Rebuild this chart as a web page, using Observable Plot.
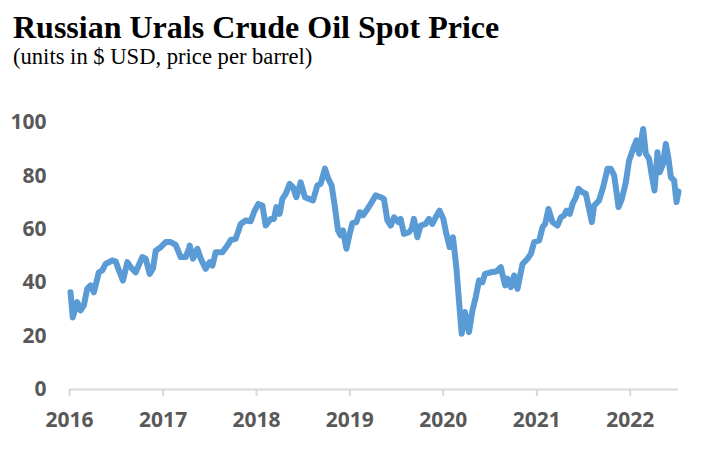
<!DOCTYPE html>
<html>
<head>
<meta charset="utf-8">
<script src="https://cdn.jsdelivr.net/npm/d3@7"></script>
<script src="https://cdn.jsdelivr.net/npm/@observablehq/plot@0.6"></script>
<style>
  html, body { margin: 0; padding: 0; background: #fff; }
  #wrap { position: relative; width: 701px; height: 458px; overflow: hidden; }
  #title { position: absolute; left: 13px; top: 10.7px; font-family: "Liberation Serif", serif; font-weight: bold; font-size: 32px; line-height: 32px; color: #000; white-space: nowrap; }
  #subtitle { position: absolute; left: 13px; top: 46.1px; font-family: "Liberation Serif", serif; font-size: 22.6px; line-height: 22.6px; color: #000; white-space: nowrap; }
  #chart { position: absolute; left: 0; top: 80px; }
</style>
</head>
<body>
<div id="wrap">
  <div id="title">Russian Urals Crude Oil Spot Price</div>
  <div id="subtitle">(units in $ USD, price per barrel)</div>
  <div id="chart"></div>
</div>
<script>
// Dates as decimal years, prices in USD per barrel
const dates = [
  2016.011, 2016.035, 2016.082, 2016.118, 2016.153, 2016.190, 2016.225, 2016.260, 2016.314, 2016.350,
  2016.385, 2016.457, 2016.493, 2016.528, 2016.571, 2016.618, 2016.653, 2016.707, 2016.778, 2016.814,
  2016.857, 2016.892, 2016.921, 2016.974, 2017.028, 2017.081, 2017.135, 2017.188, 2017.242, 2017.277,
  2017.285, 2017.320, 2017.367, 2017.403, 2017.456, 2017.499, 2017.528, 2017.563, 2017.635, 2017.688,
  2017.724, 2017.777, 2017.831, 2017.884, 2017.938, 2017.973, 2018.020, 2018.063, 2018.099, 2018.152,
  2018.187, 2018.213, 2018.248, 2018.277, 2018.313, 2018.355, 2018.391, 2018.427, 2018.473, 2018.519,
  2018.562, 2018.605, 2018.652, 2018.687, 2018.733, 2018.769, 2018.805, 2018.840, 2018.873, 2018.901,
  2018.926, 2018.963, 2018.998, 2019.027, 2019.070, 2019.105, 2019.140, 2019.177, 2019.223, 2019.276,
  2019.330, 2019.365, 2019.402, 2019.437, 2019.473, 2019.519, 2019.544, 2019.579, 2019.633, 2019.662,
  2019.686, 2019.723, 2019.758, 2019.812, 2019.847, 2019.883, 2019.919, 2019.961, 2020.001, 2020.033,
  2020.069, 2020.104, 2020.140, 2020.168, 2020.197, 2020.232, 2020.275, 2020.312, 2020.347, 2020.382,
  2020.419, 2020.446, 2020.507, 2020.569, 2020.615, 2020.661, 2020.687, 2020.722, 2020.757, 2020.793,
  2020.847, 2020.900, 2020.936, 2020.971, 2021.025, 2021.061, 2021.089, 2021.125, 2021.168, 2021.221,
  2021.257, 2021.292, 2021.318, 2021.353, 2021.382, 2021.418, 2021.446, 2021.489, 2021.525, 2021.560,
  2021.589, 2021.613, 2021.667, 2021.710, 2021.757, 2021.792, 2021.828, 2021.853, 2021.875, 2021.910,
  2021.953, 2021.988, 2022.031, 2022.067, 2022.095, 2022.138, 2022.167, 2022.202, 2022.231, 2022.260,
  2022.292, 2022.317, 2022.352, 2022.381, 2022.410, 2022.435, 2022.470, 2022.496, 2022.517
];
const prices = [
  36.4, 27.0, 32.7, 29.6, 31.5, 37.8, 39.0, 36.4, 43.9, 44.6,
  47.0, 48.3, 48.0, 44.6, 40.8, 47.7, 45.8, 43.9, 49.6, 49.0,
  43.3, 45.3, 52.0, 53.3, 55.2, 55.2, 54.2, 49.6, 49.6, 52.8,
  53.9, 49.0, 52.7, 49.0, 45.2, 47.7, 46.4, 51.4, 51.4, 53.9,
  56.0, 56.4, 62.0, 63.3, 63.0, 66.4, 69.5, 68.9, 61.4, 63.9,
  63.9, 68.3, 65.8, 71.4, 73.3, 77.0, 75.8, 72.0, 77.6, 72.0,
  71.4, 70.8, 76.4, 77.0, 82.7, 78.9, 76.4, 68.3, 59.6, 57.7,
  59.6, 52.7, 58.3, 62.3, 62.7, 66.4, 65.2, 67.0, 69.5, 72.7,
  72.0, 71.4, 63.3, 61.4, 64.5, 62.7, 63.9, 58.3, 58.9, 60.2,
  63.9, 57.0, 61.4, 62.0, 63.9, 62.0, 64.5, 67.0, 63.9, 58.3,
  53.3, 57.0, 45.8, 33.3, 20.9, 29.0, 21.5, 29.6, 34.6, 40.8,
  40.2, 43.3, 43.9, 44.2, 45.8, 39.0, 41.5, 38.3, 42.7, 37.7,
  47.0, 49.0, 50.8, 55.2, 55.8, 60.8, 62.0, 67.6, 62.7, 61.4,
  64.5, 65.2, 67.0, 65.8, 69.5, 72.0, 75.2, 73.9, 73.3, 67.6,
  62.7, 68.9, 70.8, 75.8, 82.7, 82.7, 80.1, 73.9, 68.3, 71.4,
  77.6, 85.8, 90.1, 93.3, 88.3, 97.6, 88.3, 86.4, 80.1, 74.5,
  88.9, 81.4, 84.5, 92.0, 86.4, 79.5, 78.3, 70.2, 74.2
];
const yearTicks = [2016, 2017, 2018, 2019, 2020, 2021, 2022];
const valueTicks = [0, 20, 40, 60, 80, 100];

function toDate(d) {
  const y = Math.floor(d);
  const s = Date.UTC(y, 0, 1), e = Date.UTC(y + 1, 0, 1);
  return new Date(s + (d - y) * (e - s));
}
const data = dates.map((d, i) => ({date: toDate(d), price: prices[i]}));

const chart = Plot.plot({
  width: 701,
  height: 378,
  marginTop: 42,
  marginBottom: 69,
  marginLeft: 69,
  marginRight: 23,
  style: {fontFamily: "'Open Sans', sans-serif", fontSize: "21px", fontWeight: "bold", color: "#595959", background: "transparent"},
  x: {type: "utc", domain: [toDate(2016), toDate(dates[dates.length - 1])]},
  y: {domain: [0, 100]},
  marks: [
    Plot.ruleY([0], {stroke: "#d9d9d9", strokeWidth: 2}),
    Plot.axisY({ticks: valueTicks, tickSize: 0, tickPadding: 23, fill: "#595959", label: null}),
    Plot.axisX({ticks: yearTicks.map(y => toDate(y)), tickFormat: d3.utcFormat("%Y"), tickSize: 7, tickPadding: 16, stroke: "#d9d9d9", strokeWidth: 2, fill: "#595959", label: null}),
    Plot.line(data, {x: "date", y: "price", stroke: "#5b9bd5", strokeWidth: 6, strokeLinejoin: "round", strokeLinecap: "round"})
  ]
});
document.getElementById("chart").appendChild(chart);
</script>
</body>
</html>
